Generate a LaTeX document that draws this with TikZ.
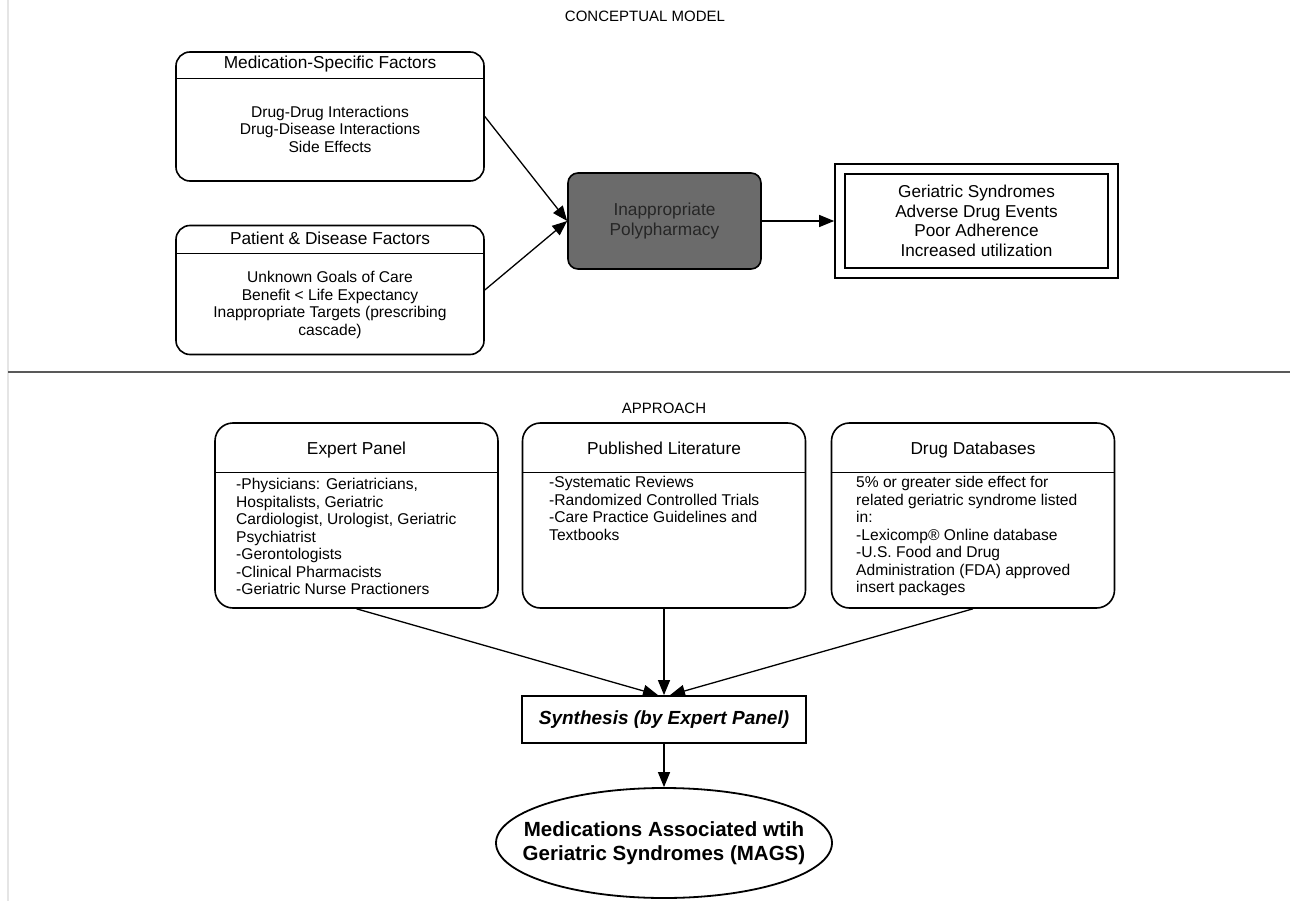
\documentclass[tikz,border=0pt]{standalone}
\usepackage{fontspec}
\setmainfont{Liberation Sans}
\usetikzlibrary{arrows.meta,positioning,shapes.geometric}

\tikzset{
	factor/.style={draw, line width=1.6pt, rounded corners=14pt, minimum width=308pt, minimum height=129pt},
	source/.style={draw, line width=1.6pt, rounded corners=18pt, minimum width=283pt, minimum height=185pt},
	head/.style={font=\fontsize{17.3}{20}\selectfont, anchor=base, inner sep=0pt},
	list/.style={font=\fontsize{15.6}{17.5}\selectfont, inner sep=0pt},
	title/.style={font=\fontsize{15}{18}\selectfont, inner sep=0pt},
	arr/.style={-{Triangle[length=15pt,width=12pt]}, line width=1.3pt}
}

\begin{document}
\begin{tikzpicture}[x=1pt,y=-1pt]
	\useasboundingbox (0,0) rectangle (1290,901);
	\draw [black!10, line width=1.5pt] (8,0) -- (8,901);
	\node [title] (concept) at (645,16) {CONCEPTUAL MODEL};
	\node [factor] (medfac) at (330,116.5) {};
	\node [factor] (patfac) at (330,290) {};
	\foreach \b/\y in {medfac/79, patfac/254}
		\draw [line width=1pt] (\b.west |- 0,\y) -- (\b.east |- 0,\y);
	\node [head] (medfac-hd) at (330,69) {Medication-Specific Factors};
	\node [head] (patfac-hd) at (330,245) {Patient \& Disease Factors};
	\node [list, align=center] (medfac-txt) at (330,129)
		{Drug-Drug Interactions\\Drug-Disease Interactions\\Side Effects};
	\node [list, align=center] (patfac-txt) at (330,305)
		{Unknown Goals of Care\\Benefit \textless{} Life Expectancy\\Inappropriate Targets (prescribing\\cascade)};
	\node [draw, line width=1.6pt, fill=black!58, rounded corners=10pt, minimum width=193pt,
		minimum height=96pt, align=center, text=black!85, font=\fontsize{17.3}{20}\selectfont]
		(poly) at (664.5,221) {Inappropriate\\Polypharmacy};
	\node [draw, line width=1.6pt, double, double distance=8.5pt, outer sep=5.85pt, minimum width=273pt,
		minimum height=104pt, align=center, font=\fontsize{17.2}{19.5}\selectfont]
		(outcome) at (976.5,221) {Geriatric Syndromes\\Adverse Drug Events\\Poor Adherence\\Increased utilization};
	\draw [arr] (medfac.east) -- (poly.west);
	\draw [arr] (patfac.east) -- (poly.west);
	\draw [arr] (poly) -- (outcome);
	\draw [black!65, line width=2.5pt] (8,372) -- (1290,372);
	\node [title] (approach) at (664,408) {APPROACH};
	\foreach \n/\x in {expert/356.5, lit/664, drugdb/973}
		\node [source] (\n) at (\x,515.5) {};
	\foreach \n/\t in {expert/Expert Panel, lit/Published Literature, drugdb/Drug Databases} {
		\draw [line width=1pt] (\n.west |- 0,472) -- (\n.east |- 0,472);
		\node [head] (\n-hd) at (\n.center |- 0,454) {\t};
	}
	\node [list, align=left, anchor=north west] (expert-txt) at (236,478)
		{-Physicians: Geriatricians,\\Hospitalists, Geriatric\\Cardiologist, Urologist, Geriatric\\Psychiatrist\\-Gerontologists\\-Clinical Pharmacists\\-Geriatric Nurse Practioners};
	\node [list, align=left, anchor=north west] (lit-txt) at (549,476)
		{-Systematic Reviews\\-Randomized Controlled Trials\\-Care Practice Guidelines and\\Textbooks};
	\node [list, align=left, anchor=north west] (drugdb-txt) at (856,476)
		{5\% or greater side effect for\\related geriatric syndrome listed\\in:\\-Lexicomp® Online database\\-U.S. Food and Drug\\Administration (FDA) approved\\insert packages};
	\node [draw, line width=1.8pt, minimum width=284pt, minimum height=47pt,
		font=\fontsize{19}{22}\selectfont\bfseries\itshape] (synth) at (664,719.5) {Synthesis (by Expert Panel)};
	\node [draw, ellipse, line width=1.8pt, minimum width=336pt, minimum height=110pt] (mags) at (664,843) {};
	\node [align=center, inner sep=0pt, font=\fontsize{20.5}{24}\selectfont\bfseries] (mags-txt) at (mags.center)
		{Medications Associated wtih\\Geriatric Syndromes (MAGS)};
	\foreach \n/\s in {expert/-6, lit/0, drugdb/6}
		\draw [arr] (\n.south) -- ([xshift=\s pt]synth.north);
	\draw [arr] (synth) -- (mags);
\end{tikzpicture}
\end{document}
